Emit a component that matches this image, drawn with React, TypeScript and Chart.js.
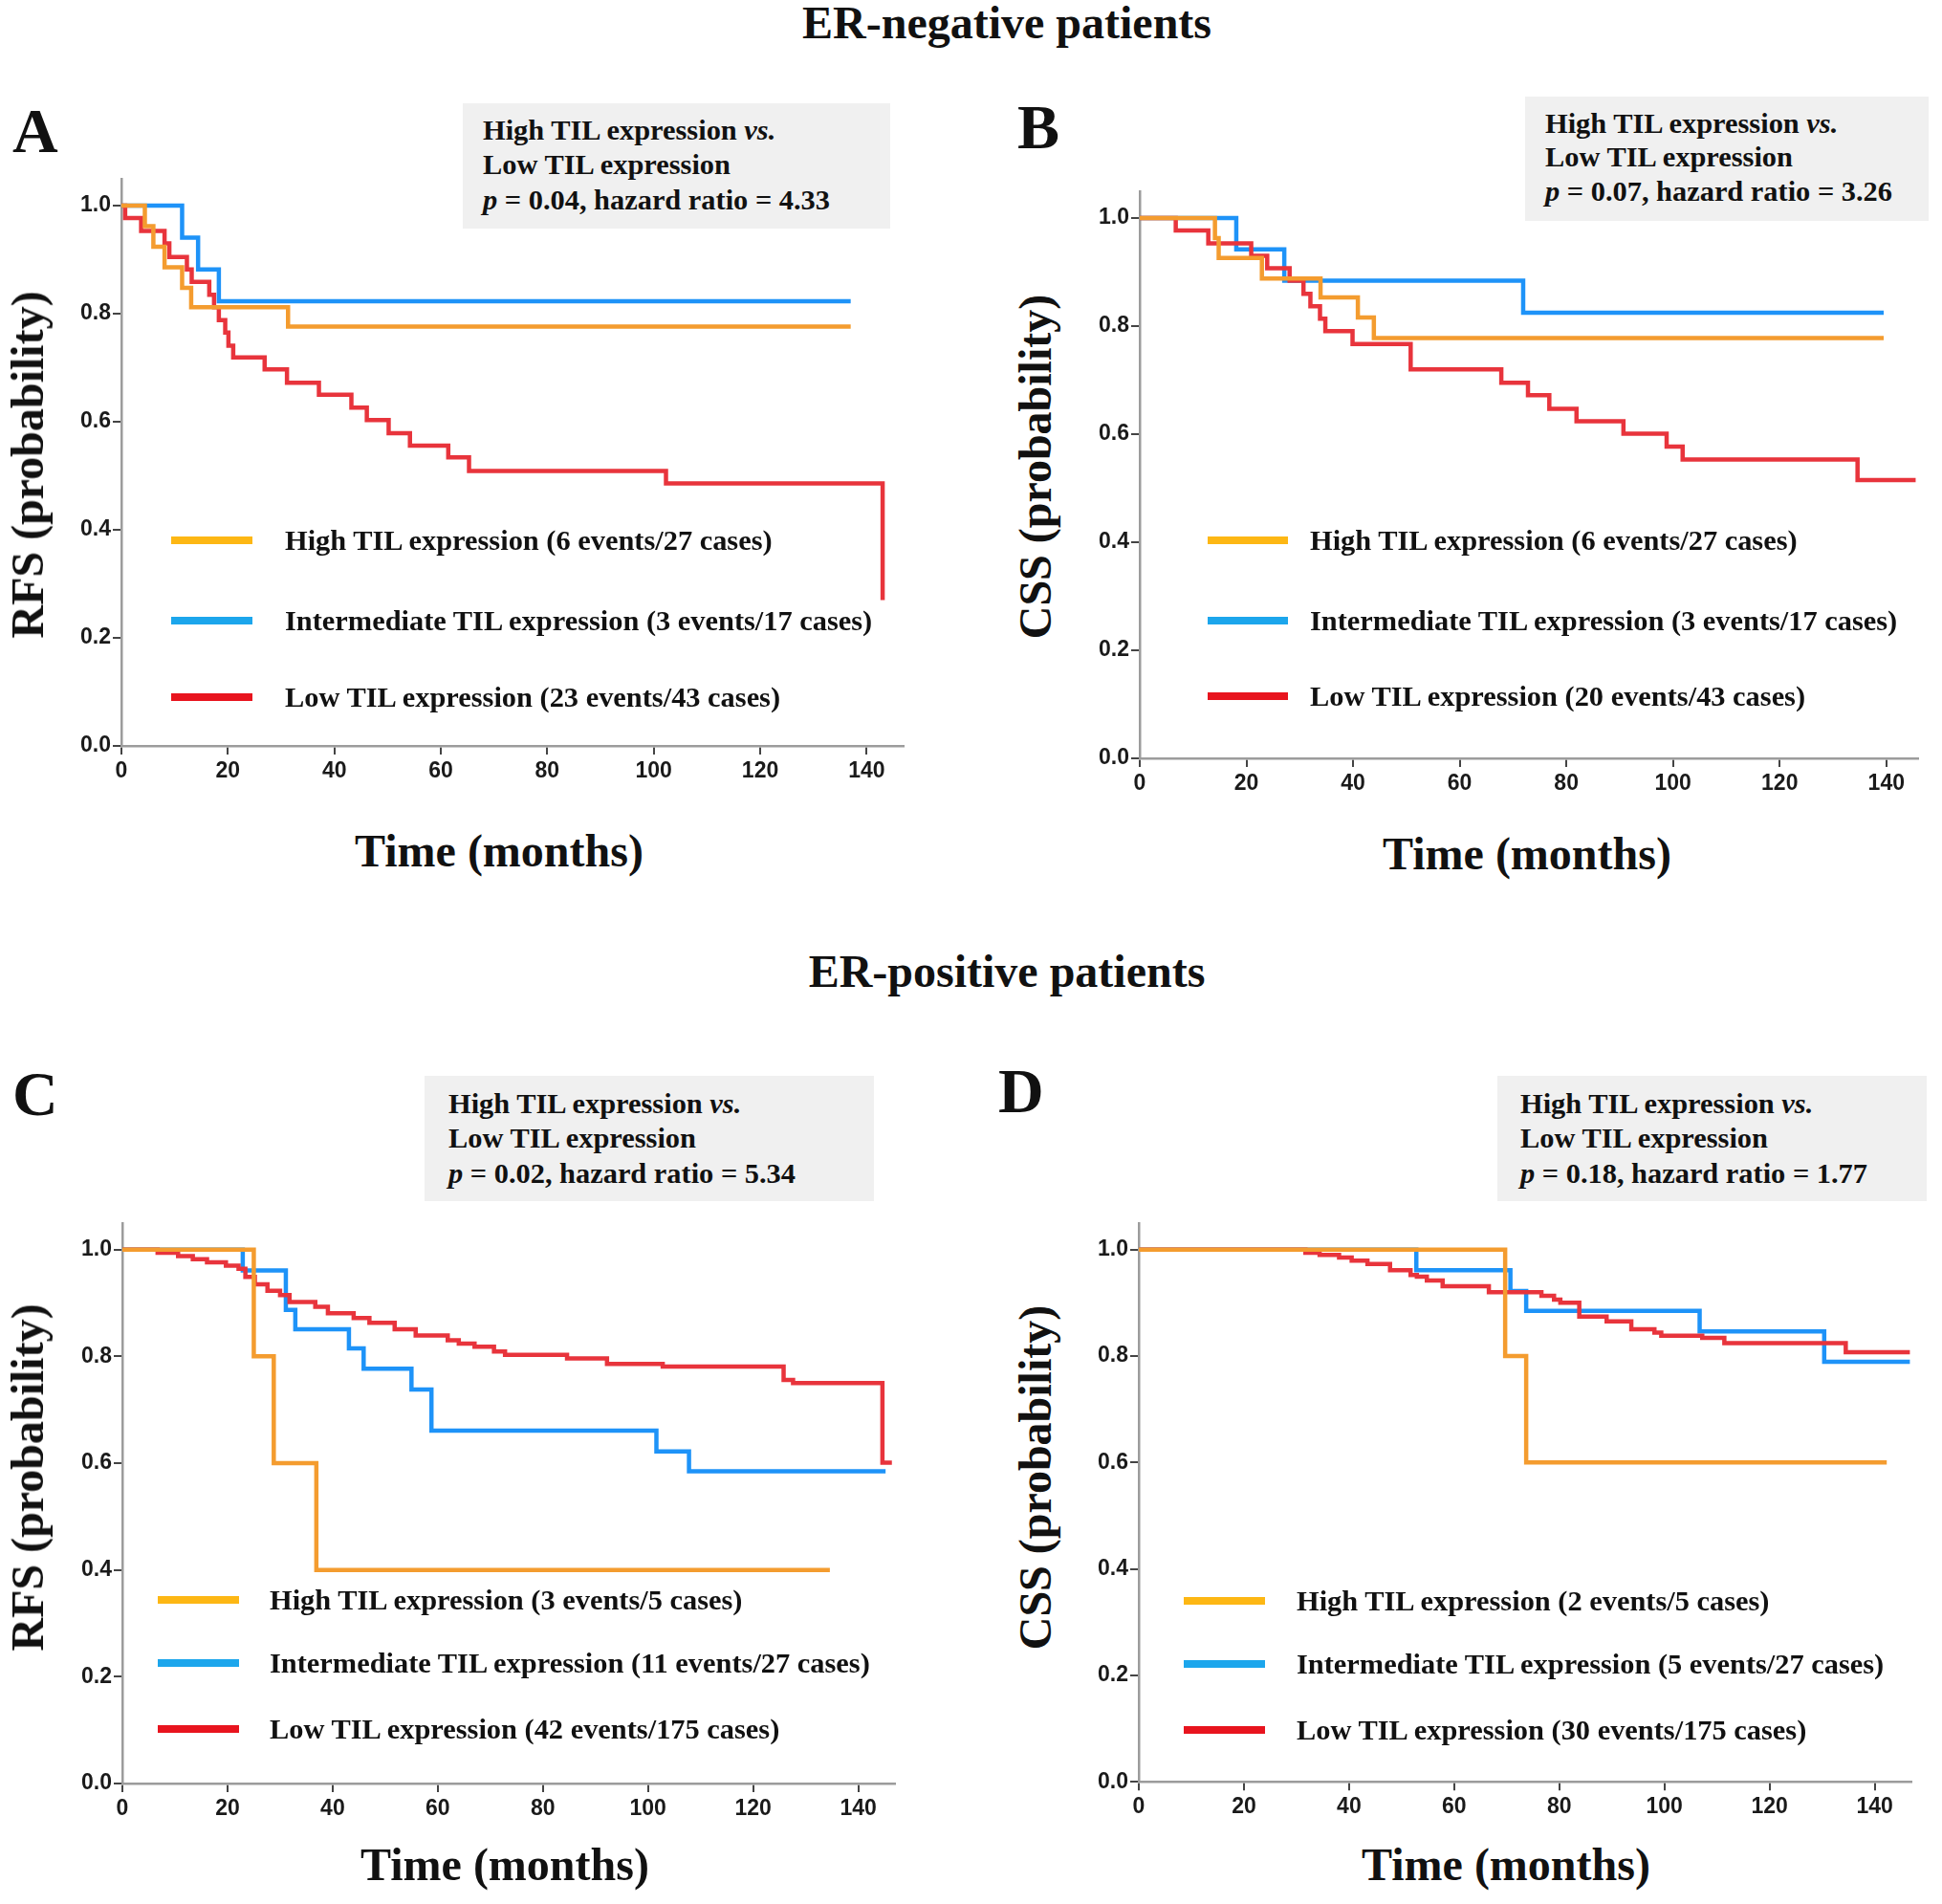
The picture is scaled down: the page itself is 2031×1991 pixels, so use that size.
import React, { useEffect, useRef } from "react";
import { Chart, registerables } from "chart.js";
Chart.register(...registerables);

// ---------- tick labels ----------
const xTickValues = [0, 20, 40, 60, 80, 100, 120, 140];
const yTickValues = [0, 0.2, 0.4, 0.6, 0.8, 1.0];

// ---------- Panel A (ER-negative, RFS) ----------
const aHighTime = [0, 4.4, 6.0, 8.1, 11.4, 13.1, 31.3, 137];
const aHighSurv = [1, 0.962, 0.924, 0.886, 0.848, 0.812, 0.776, 0.776];
const aIntTime = [0, 11.4, 14.4, 18.3, 137];
const aIntSurv = [1, 0.941, 0.882, 0.823, 0.823];
const aLowTime = [0, 0.7, 3.7, 8.1, 9, 12.3, 13.2, 16.5, 17.4, 18.3, 19.5, 20.1, 21, 26.9, 31.1, 37.1, 43.2, 46.1, 50.2, 54.2, 61.4, 65.3, 102.3, 143];
const aLowSurv = [1, 0.977, 0.953, 0.93, 0.905, 0.882, 0.859, 0.835, 0.812, 0.788, 0.765, 0.741, 0.719, 0.697, 0.672, 0.65, 0.626, 0.603, 0.579, 0.556, 0.534, 0.509, 0.486, 0.27];

// ---------- Panel B (ER-negative, CSS) ----------
const bHighTime = [0, 14.1, 14.8, 22.9, 33.9, 40.9, 43.9, 139.5];
const bHighSurv = [1, 0.963, 0.926, 0.888, 0.853, 0.816, 0.778, 0.778];
const bIntTime = [0, 18.1, 27.1, 71.9, 139.5];
const bIntSurv = [1, 0.942, 0.884, 0.825, 0.825];
const bLowTime = [0, 6.75, 12.85, 20.9, 23.9, 28.1, 30.7, 32, 33.8, 34.8, 39.9, 50.8, 67.8, 72.8, 76.8, 81.9, 90.7, 98.8, 101.8, 134.6, 145.5];
const bLowSurv = [1, 0.977, 0.953, 0.93, 0.907, 0.884, 0.86, 0.837, 0.814, 0.791, 0.767, 0.72, 0.695, 0.672, 0.647, 0.624, 0.601, 0.577, 0.553, 0.515, 0.515];

// ---------- Panel C (ER-positive, RFS) ----------
const cHighTime = [0, 25.0, 28.8, 36.9, 134.6];
const cHighSurv = [1, 0.8, 0.6, 0.4, 0.4];
const cIntTime = [0, 22.9, 31.1, 32.9, 43.1, 45.9, 55.0, 58.8, 101.6, 107.8, 145.2];
const cIntSurv = [1, 0.961, 0.887, 0.851, 0.815, 0.777, 0.738, 0.661, 0.622, 0.585, 0.585];
const cLowTime = [0, 6.7, 10.6, 13.4, 16.1, 19.7, 22.1, 23.4, 25.2, 27.6, 30.0, 31.8, 36.7, 39.1, 44.0, 47.0, 51.8, 55.8, 61.9, 64.0, 67.0, 70.7, 72.8, 84.6, 92.2, 102.8, 125.8, 127.6, 144.6, 146.4];
const cLowSurv = [1, 0.994, 0.988, 0.982, 0.976, 0.97, 0.964, 0.949, 0.935, 0.923, 0.915, 0.902, 0.893, 0.881, 0.872, 0.863, 0.851, 0.839, 0.83, 0.824, 0.818, 0.809, 0.803, 0.796, 0.786, 0.781, 0.756, 0.75, 0.601, 0.601];

// ---------- Panel D (ER-positive, CSS) ----------
const dHighTime = [0, 69.7, 73.7, 142.3];
const dHighSurv = [1, 0.8, 0.6, 0.6];
const dIntTime = [0, 52.8, 70.7, 73.7, 106.7, 130.4, 146.7];
const dIntSurv = [1, 0.961, 0.922, 0.885, 0.846, 0.789, 0.789];
const dLowTime = [0, 31.7, 34.4, 38.1, 40.5, 43.5, 47.8, 51.7, 52.9, 54.8, 57.8, 66.6, 76.6, 79.0, 80.2, 83.8, 89.0, 93.7, 98.1, 99.4, 107.2, 111.4, 134.5, 146.7];
const dLowSurv = [1, 0.994, 0.99, 0.985, 0.979, 0.973, 0.961, 0.952, 0.949, 0.942, 0.931, 0.92, 0.913, 0.906, 0.9, 0.874, 0.865, 0.85, 0.844, 0.838, 0.834, 0.824, 0.807, 0.807];

// ---------- texts ----------
const titleNeg = "ER-negative patients";
const titlePos = "ER-positive patients";
const xTitle = "Time (months)";
const legendA = ["High TIL expression (6 events/27 cases)", "Intermediate TIL expression (3 events/17 cases)", "Low TIL expression (23 events/43 cases)"];
const legendB = ["High TIL expression (6 events/27 cases)", "Intermediate TIL expression (3 events/17 cases)", "Low TIL expression (20 events/43 cases)"];
const legendC = ["High TIL expression (3 events/5 cases)", "Intermediate TIL expression (11 events/27 cases)", "Low TIL expression (42 events/175 cases)"];
const legendD = ["High TIL expression (2 events/5 cases)", "Intermediate TIL expression (5 events/27 cases)", "Low TIL expression (30 events/175 cases)"];
const statA = ["0.04", "4.33"];
const statB = ["0.07", "3.26"];
const statC = ["0.02", "5.34"];
const statD = ["0.18", "1.77"];

const CURVE_ORANGE = "#F49C2F";
const CURVE_BLUE = "#1E93F8";
const CURVE_RED = "#E8343C";
const SWATCH = ["#FDB714", "#1CA6EC", "#E8141E"];

const SERIF = '"Liberation Serif", "Times New Roman", Times, serif';
const SANS = '"Liberation Sans", Arial, Helvetica, sans-serif';
const TEXT_SIZE = 30.4;

type Series = { t: number[]; s: number[]; color: string };
type PanelCfg = {
  plotLeft: number; // x pixel of 0 months
  plotRight: number; // x pixel of xMax
  plotTop: number; // y pixel of yMax
  plotBottom: number; // y pixel of 0
  xMax: number;
  yMax: number;
  series: Series[];
};

// first dataset is drawn on top: orange, then red, then blue
const panels: PanelCfg[] = [
  {
    plotLeft: 126.7, plotRight: 126.7 + 147 * 5.567, plotTop: 780 - 1.05 * 566.7, plotBottom: 780,
    xMax: 147, yMax: 1.05,
    series: [
      { t: aHighTime, s: aHighSurv, color: CURVE_ORANGE },
      { t: aLowTime, s: aLowSurv, color: CURVE_RED },
      { t: aIntTime, s: aIntSurv, color: CURVE_BLUE },
    ],
  },
  {
    plotLeft: 1191.7, plotRight: 1191.7 + 146 * 5.577, plotTop: 793.4 - 1.05 * 566.7, plotBottom: 793.4,
    xMax: 146, yMax: 1.05,
    series: [
      { t: bHighTime, s: bHighSurv, color: CURVE_ORANGE },
      { t: bLowTime, s: bLowSurv, color: CURVE_RED },
      { t: bIntTime, s: bIntSurv, color: CURVE_BLUE },
    ],
  },
  {
    plotLeft: 128.3, plotRight: 128.3 + 147 * 5.497, plotTop: 1865 - 1.05 * 560, plotBottom: 1865,
    xMax: 147, yMax: 1.05,
    series: [
      { t: cHighTime, s: cHighSurv, color: CURVE_ORANGE },
      { t: cLowTime, s: cLowSurv, color: CURVE_RED },
      { t: cIntTime, s: cIntSurv, color: CURVE_BLUE },
    ],
  },
  {
    plotLeft: 1190.7, plotRight: 1190.7 + 147 * 5.497, plotTop: 1863.3 - 1.05 * 558.3, plotBottom: 1863.3,
    xMax: 147, yMax: 1.05,
    series: [
      { t: dHighTime, s: dHighSurv, color: CURVE_ORANGE },
      { t: dLowTime, s: dLowSurv, color: CURVE_RED },
      { t: dIntTime, s: dIntSurv, color: CURVE_BLUE },
    ],
  },
];

const PAD_L = 80;
const PAD_T = 14;
const PAD_R = 16;
const PAD_B = 60;

function KMChart({ cfg }: { cfg: PanelCfg }) {
  const ref = useRef<HTMLCanvasElement | null>(null);
  const plotW = cfg.plotRight - cfg.plotLeft;
  const plotH = cfg.plotBottom - cfg.plotTop;
  const w = Math.round(plotW + PAD_L + PAD_R);
  const h = Math.round(plotH + PAD_T + PAD_B);

  useEffect(() => {
    if (!ref.current) return;
    const chart = new Chart(ref.current, {
      type: "line",
      data: {
        datasets: cfg.series.map((s) => ({
          data: s.t.map((t, i) => ({ x: t, y: s.s[i] })),
          borderColor: s.color,
          backgroundColor: s.color,
          borderWidth: 4.5,
          stepped: true,
          pointRadius: 0,
          fill: false,
          tension: 0,
          borderCapStyle: "butt" as const,
          borderJoinStyle: "miter" as const,
        })),
      },
      options: {
        animation: false,
        responsive: false,
        devicePixelRatio: 1,
        events: [],
        layout: { padding: { top: PAD_T, right: w - PAD_L - plotW, left: 0, bottom: 0 } },
        plugins: { legend: { display: false }, tooltip: { enabled: false } },
        scales: {
          x: {
            type: "linear",
            min: 0,
            max: cfg.xMax,
            afterBuildTicks: (s: any) => {
              s.ticks = xTickValues.map((v) => ({ value: v }));
            },
            afterFit: (s: any) => {
              s.height = h - PAD_T - plotH;
            },
            grid: { display: true, drawOnChartArea: false, drawTicks: true, tickLength: 9, color: "#444", lineWidth: 2 },
            border: { display: true, color: "#9c9c9c", width: 2.5 },
            ticks: {
              autoSkip: false,
              maxRotation: 0,
              padding: 4,
              color: "#1a1a1a",
              font: { family: SANS, size: 23, weight: "bold" },
              callback: (v: any) => String(v),
            },
          },
          y: {
            type: "linear",
            min: 0,
            max: cfg.yMax,
            afterBuildTicks: (s: any) => {
              s.ticks = yTickValues.map((v) => ({ value: v }));
            },
            afterFit: (s: any) => {
              s.width = PAD_L;
            },
            grid: { display: true, drawOnChartArea: false, drawTicks: true, tickLength: 9, color: "#444", lineWidth: 2 },
            border: { display: true, color: "#9c9c9c", width: 2.5 },
            ticks: {
              autoSkip: false,
              padding: 2,
              color: "#1a1a1a",
              font: { family: SANS, size: 23, weight: "bold" },
              callback: (v: any) => Number(v).toFixed(1),
            },
          },
        },
      },
    });
    return () => chart.destroy();
  }, []);

  return (
    <canvas
      ref={ref}
      width={w}
      height={h}
      style={{ position: "absolute", left: cfg.plotLeft - PAD_L, top: cfg.plotTop - PAD_T, width: w, height: h }}
    />
  );
}

// place text so that its baseline sits at y (Liberation Serif, line-height 1)
function Txt({ x, baseline, size, children, align = "left" }: any) {
  const top = baseline - 0.8375 * size;
  const style: React.CSSProperties = {
    position: "absolute",
    top,
    left: x,
    fontFamily: SERIF,
    fontWeight: "bold",
    fontSize: size,
    lineHeight: `${size}px`,
    whiteSpace: "nowrap",
    color: "#111",
  };
  if (align === "center") style.transform = "translateX(-50%)";
  return <div style={style}>{children}</div>;
}

function VTitle({ cx, cy, text }: { cx: number; cy: number; text: string }) {
  return (
    <div
      style={{
        position: "absolute",
        left: cx,
        top: cy,
        transform: "translate(-50%, -50%) rotate(-90deg)",
        fontFamily: SERIF,
        fontWeight: "bold",
        fontSize: 48,
        lineHeight: "48px",
        whiteSpace: "nowrap",
        color: "#111",
      }}
    >
      {text}
    </div>
  );
}

function StatBox({ left, top, width, height, textX, baselines, stat }: any) {
  return (
    <>
      <div style={{ position: "absolute", left, top, width, height, background: "#F0F0F0" }} />
      <Txt x={textX} baseline={baselines[0]} size={TEXT_SIZE}>
        High TIL expression <i>vs.</i>
      </Txt>
      <Txt x={textX} baseline={baselines[1]} size={TEXT_SIZE}>
        Low TIL expression
      </Txt>
      <Txt x={textX} baseline={baselines[2]} size={TEXT_SIZE}>
        <i>p</i> = {stat[0]}, hazard ratio = {stat[1]}
      </Txt>
    </>
  );
}

function Legend({ x1, x2, textX, ys, labels }: any) {
  return (
    <>
      {ys.map((y: number, i: number) => (
        <React.Fragment key={i}>
          <div style={{ position: "absolute", left: x1, top: y - 4, width: x2 - x1, height: 8, background: SWATCH[i] }} />
          <Txt x={textX} baseline={y + 10} size={TEXT_SIZE}>
            {labels[i]}
          </Txt>
        </React.Fragment>
      ))}
    </>
  );
}

export default function App() {
  return (
    <div style={{ position: "absolute", left: 0, top: 0, width: 2031, height: 1991, background: "#fff", overflow: "hidden" }}>
      {panels.map((p, i) => (
        <KMChart key={i} cfg={p} />
      ))}

      <Txt x={1053} baseline={40} size={48} align="center">{titleNeg}</Txt>
      <Txt x={1053} baseline={1032} size={48} align="center">{titlePos}</Txt>

      <Txt x={13} baseline={159} size={66}>A</Txt>
      <Txt x={1064} baseline={155} size={66}>B</Txt>
      <Txt x={13} baseline={1166} size={66}>C</Txt>
      <Txt x={1044} baseline={1163} size={66}>D</Txt>

      <StatBox left={484} top={108} width={447} height={131} textX={505} baselines={[146, 182.5, 219]} stat={statA} />
      <StatBox left={1595} top={101} width={422} height={130} textX={1616} baselines={[139, 174, 210.5]} stat={statB} />
      <StatBox left={444} top={1125} width={470} height={131} textX={469} baselines={[1164, 1200.5, 1237]} stat={statC} />
      <StatBox left={1566} top={1125} width={449} height={131} textX={1590} baselines={[1164, 1200.5, 1237]} stat={statD} />

      <Legend x1={179} x2={264} textX={298} ys={[565, 649, 729]} labels={legendA} />
      <Legend x1={1263} x2={1347} textX={1370} ys={[565, 649, 728]} labels={legendB} />
      <Legend x1={165} x2={250} textX={282} ys={[1673, 1739, 1808]} labels={legendC} />
      <Legend x1={1238} x2={1323} textX={1356} ys={[1674, 1740, 1809]} labels={legendD} />

      <VTitle cx={29} cy={486} text="RFS (probability)" />
      <VTitle cx={1083} cy={488} text="CSS (probability)" />
      <VTitle cx={29} cy={1545} text="RFS (probability)" />
      <VTitle cx={1083} cy={1545} text="CSS (probability)" />

      <Txt x={522} baseline={906} size={48} align="center">{xTitle}</Txt>
      <Txt x={1597} baseline={909} size={48} align="center">{xTitle}</Txt>
      <Txt x={528} baseline={1966} size={48} align="center">{xTitle}</Txt>
      <Txt x={1575} baseline={1966} size={48} align="center">{xTitle}</Txt>
    </div>
  );
}
